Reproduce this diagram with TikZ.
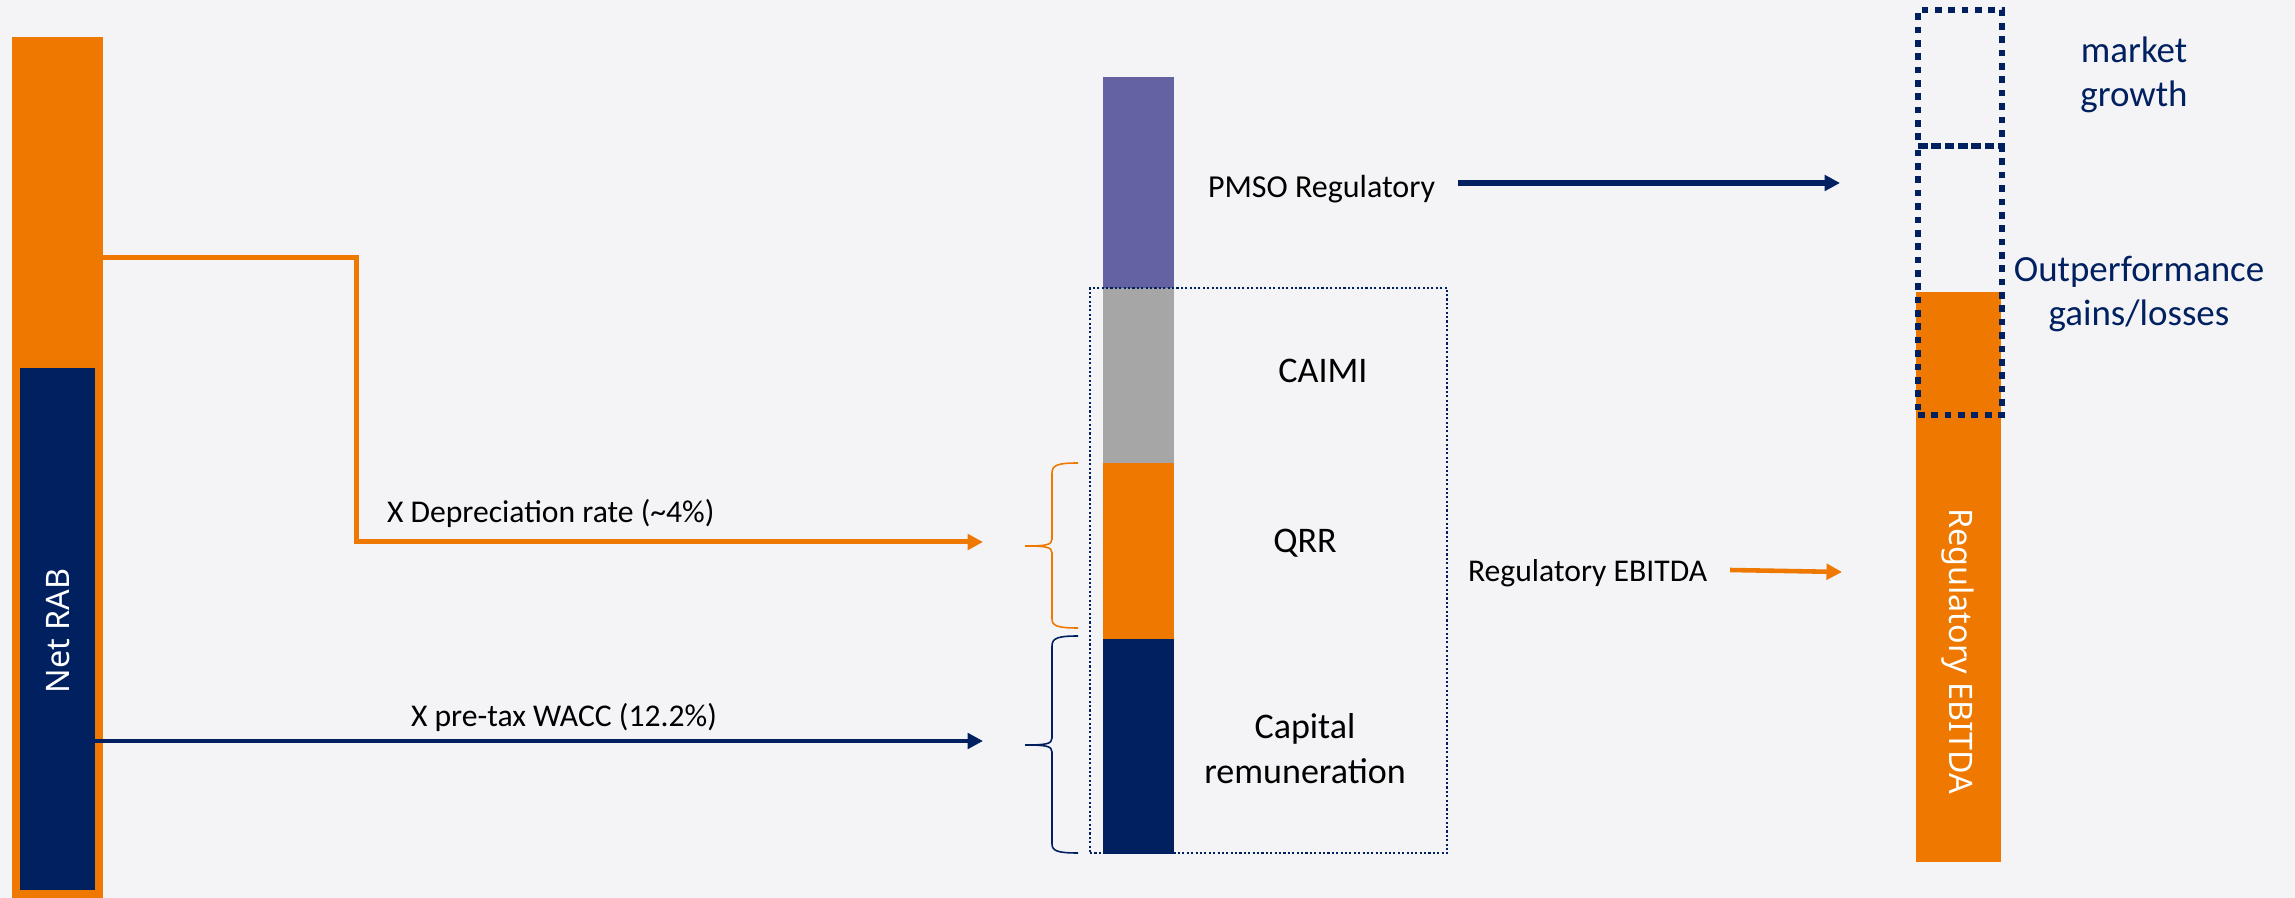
\documentclass[tikz,border=0pt]{standalone}
\usepackage{fontspec}
\setmainfont{Carlito}
\newfontfamily\barfont{Noto Sans}
\usetikzlibrary{arrows.meta}
\definecolor{bgc}{RGB}{244,244,247}
\definecolor{ora}{RGB}{238,120,0}
\definecolor{navy}{RGB}{0,32,96}
\definecolor{lilac}{RGB}{100,98,160}
\definecolor{midgray}{RGB}{166,166,166}

\begin{document}
\begin{tikzpicture}[x=0.01cm,y=-0.01cm,
  block/.style={draw=none, inner sep=0pt, outer sep=0pt, anchor=north west},
  frame/.style={draw=navy, fill=none, inner sep=0pt, outer sep=0pt, anchor=north west},
  finedots/.style={line width=0.6pt, dash pattern=on 0.6pt off 0.65pt},
  bigdots/.style={line width=1.7pt, dash pattern=on 1.9pt off 1.9pt},
  small/.style={inner sep=0pt, outer sep=0pt, font=\fontsize{9}{11}\selectfont},
  large/.style={inner sep=0pt, outer sep=0pt, font=\fontsize{10.25}{12.8}\selectfont, align=center},
  side/.style={inner sep=0pt, outer sep=0pt, text=navy, font=\fontsize{10.5}{12.6}\selectfont, align=center},
  inbar/.style={inner sep=0pt, outer sep=0pt, text=white, font=\barfont\fontsize{9.2}{11}\selectfont},
  tip/.style={-{Triangle[length=4.4pt,width=4.4pt]}},
  brace/.style={line width=0.45pt}
]
% canvas
\fill[bgc] (0,0) rectangle (2295,898);
\useasboundingbox (0,0) rectangle (2295,898);

% ---------- Net RAB column ----------
\node[block, fill=ora, minimum width=0.91cm, minimum height=8.61cm] (rab) at (12,37) {};
\node[block, fill=navy, minimum width=0.75cm, minimum height=5.22cm] (rabcore) at (20,368) {};
\node[inbar, rotate=90] (rablabel) at (58,631) {Net RAB};

% ---------- allowed revenue stack ----------
\node[block, fill=lilac, minimum width=0.71cm, minimum height=2.11cm] (pmsobar) at (1103,77) {};
\node[block, fill=midgray, minimum width=0.71cm, minimum height=1.75cm] (caimibar) at (1103,288) {};
\node[block, fill=ora, minimum width=0.71cm, minimum height=1.76cm] (qrrbar) at (1103,463) {};
\node[block, fill=navy, minimum width=0.71cm, minimum height=2.15cm] (capbar) at (1103,639) {};
\node[frame, finedots, minimum width=3.57cm, minimum height=5.65cm] (revbox) at (1090,288) {};

\node[small, anchor=base west, font=\fontsize{9.1}{11}\selectfont] (pmso) at (1208,198) {PMSO Regulatory};
\node[large, anchor=base] (caimi) at (1323,383) {CAIMI};
\node[large, anchor=base] (qrr) at (1305,553) {QRR};
\node[large] (capital) at (1305,749) {Capital\\remuneration};

% ---------- EBITDA column ----------
\node[block, fill=ora, minimum width=0.85cm, minimum height=5.70cm] (ebitda) at (1916,292) {};
\node[inbar, rotate=-90] (ebitdalabel) at (1958,651) {Regulatory EBITDA};
\node[frame, bigdots, minimum width=0.84cm, minimum height=1.36cm] (growthbox) at (1918,10) {};
\node[frame, bigdots, minimum width=0.84cm, minimum height=2.69cm] (outbox) at (1918,146) {};
\node[side] (growth) at (2134,75) {market\\growth};
\node[side] (outperf) at (2139,294) {Outperformance\\gains/losses};

% ---------- connectors ----------
\coordinate (depcorner) at (356,257.5);
\coordinate (depbend) at (356,542);
\coordinate (deptip) at (983,542);
\coordinate (wacctip) at (983,741);
\coordinate (pmsotip) at (1840,183);
\coordinate (regstart) at (1730,570);
\coordinate (regtip) at (1842,572);

\draw[ora, line width=1.42pt, tip] (rab.east |- depcorner) -- (depcorner) -- (depbend) -- (deptip);
\node[small, anchor=base west] (deplabel) at (387,523) {X Depreciation rate (\textasciitilde4\%)};

\draw[navy, line width=1.42pt, tip] (rabcore.east |- wacctip) -- (wacctip);
\node[small, anchor=base west] (wacclabel) at (411,726) {X pre-tax WACC (12.2\%)};

\draw[navy, line width=1.5pt, tip, shorten <=6.5pt] (pmso.east |- pmsotip) -- (pmsotip);

\node[small, anchor=base west] (regmid) at (1468,582) {Regulatory EBITDA};
\draw[ora, line width=1.3pt, tip] (regstart) -- (regtip);

% ---------- braces ----------
\draw[ora, brace] (1078,463) .. controls (1058,463) and (1052,465) .. (1052,473)
  -- (1052,539) .. controls (1052,545) and (1046,546) .. (1025,546)
  .. controls (1046,546) and (1052,547) .. (1052,553)
  -- (1052,619) .. controls (1052,626) and (1058,628) .. (1078,628);
\draw[navy, brace] (1078,636) .. controls (1058,636) and (1052,638) .. (1052,646)
  -- (1052,738) .. controls (1052,744) and (1046,745) .. (1025,745)
  .. controls (1046,745) and (1052,746) .. (1052,752)
  -- (1052,844) .. controls (1052,851) and (1058,853) .. (1078,853);
\end{tikzpicture}
\end{document}
